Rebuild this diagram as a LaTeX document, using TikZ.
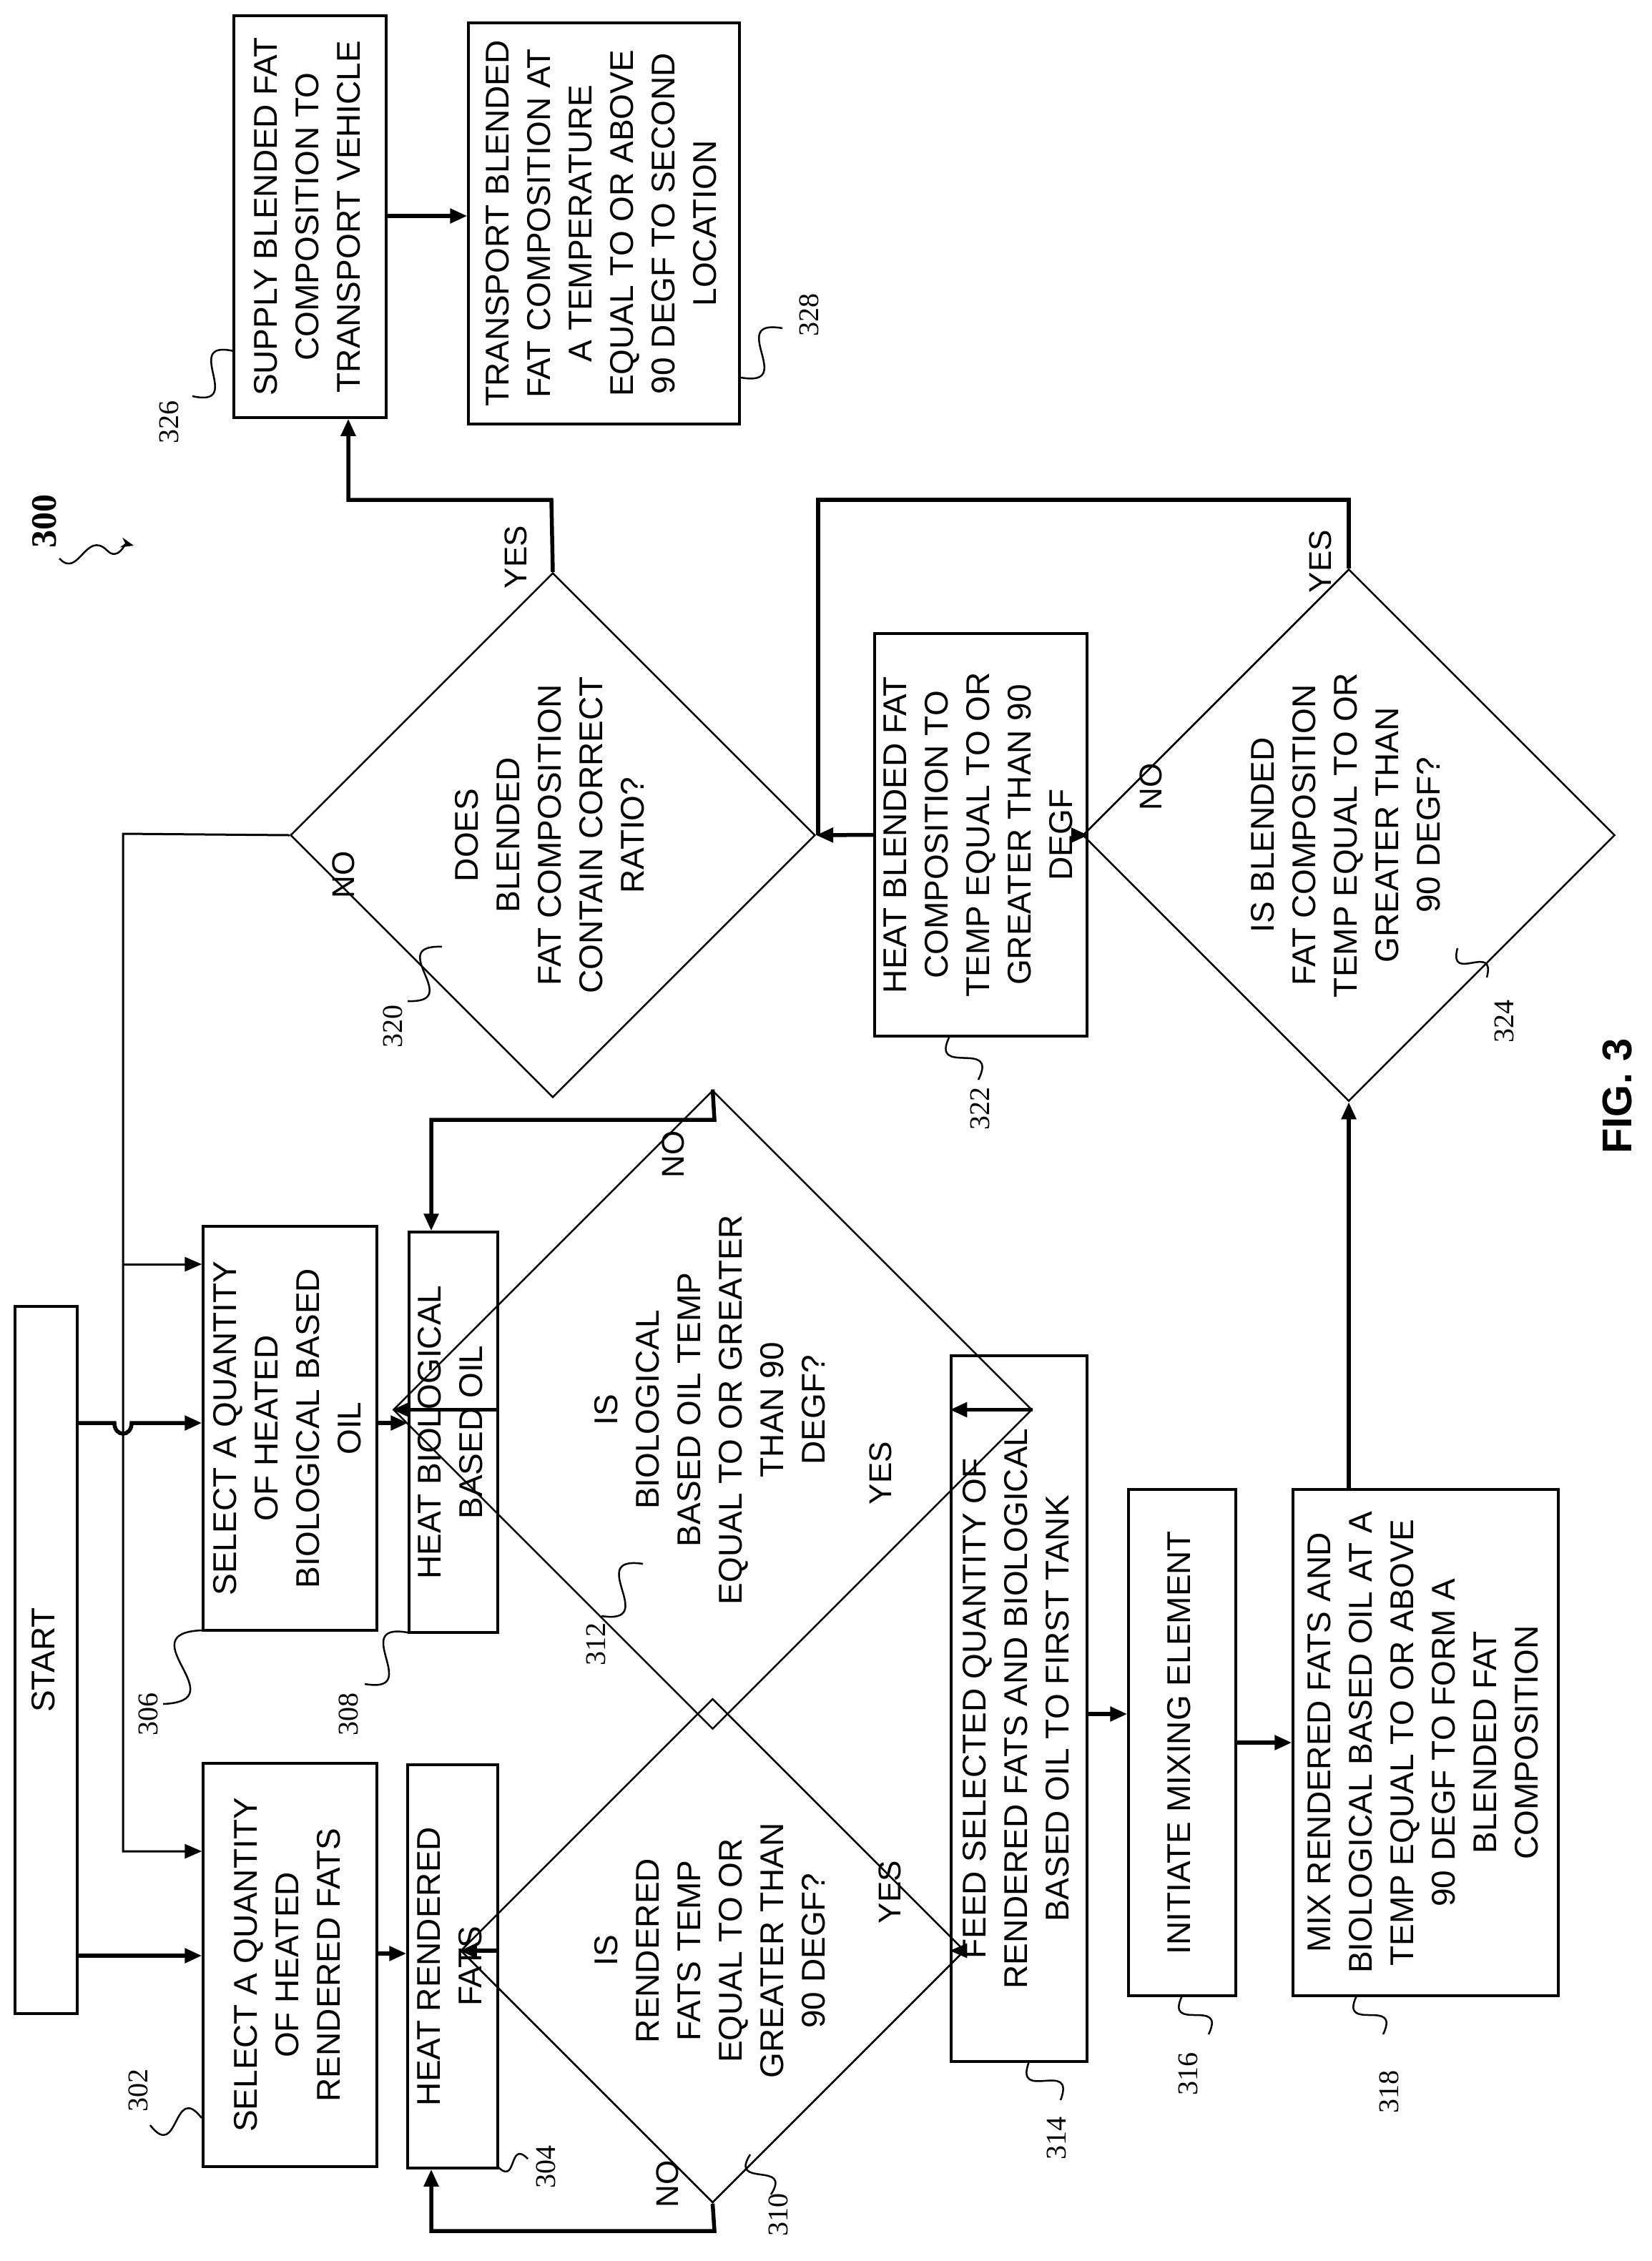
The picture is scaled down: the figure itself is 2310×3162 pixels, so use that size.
\documentclass[tikz,border=0pt]{standalone}
\usepackage{fontspec}
\setmainfont{Liberation Sans}
\newfontfamily\numfont{Liberation Serif}
\usetikzlibrary{shapes.geometric,arrows.meta,calc}
\newcommand\rt[1]{\rotatebox{90}{\begin{tabular}{@{}c@{}}#1\end{tabular}}}
\begin{document}
\begin{tikzpicture}[x=1pt,y=-1pt,
  box/.style={draw,line width=3.5pt,inner sep=0pt,font=\fontsize{46}{58}\selectfont},
  dia/.style={draw,diamond,line width=2.5pt,inner sep=0pt,font=\fontsize{46}{58}\selectfont},
  arr/.style={line width=5.5pt,-{Triangle[length=24pt,width=20pt]}},
  ln/.style={line width=5.5pt},
  tarr/.style={line width=3pt,-{Triangle[length=24pt,width=20pt]}},
  tln/.style={line width=3pt},
  sq/.style={line width=2.5pt},
  num/.style={font=\numfont\fontsize{40}{40}\selectfont,inner sep=0pt},
  yn/.style={font=\fontsize{44}{44}\selectfont,inner sep=0pt}]
\useasboundingbox[fill=white] (0,0) rectangle (2310,3162);
% boxes
\node[box,minimum width=87pt,minimum height=989pt] (start) at (64.5,2321.5) {\rt{START}};
\node[box,minimum width=243pt,minimum height=564pt] (s302) at (405.5,2748) {\rt{SELECT A QUANTITY\\OF HEATED\\RENDERED FATS}};
\node[box,minimum width=243pt,minimum height=565pt] (s306) at (405.5,1997.5) {\rt{SELECT A QUANTITY\\OF HEATED\\BIOLOGICAL BASED\\OIL}};
\node[box,minimum width=126pt,minimum height=564pt] (s304) at (633,2750) {\rt{HEAT RENDERED\\FATS}};
\node[box,minimum width=124pt,minimum height=560pt] (s308) at (634,2003) {\rt{HEAT BIOLOGICAL\\BASED OIL}};
\node[dia,minimum width=485pt,minimum height=704pt] (d310) at (996.5,2728) {\rt{IS\\RENDERED\\FATS TEMP\\EQUAL TO OR\\GREATER THAN\\90 DEGF?}};
\node[dia,minimum width=485pt,minimum height=705pt] (d312) at (996.5,1971.5) {\rt{IS\\BIOLOGICAL\\BASED OIL TEMP\\EQUAL TO OR GREATER\\THAN 90\\DEGF?}};
\node[box,minimum width=190pt,minimum height=987pt] (s314) at (1425,2389.5) {\rt{FEED SELECTED QUANTITY OF\\RENDERED FATS AND BIOLOGICAL\\BASED OIL TO FIRST TANK}};
\node[box,minimum width=150pt,minimum height=708pt] (s316) at (1653,2437) {\rt{INITIATE MIXING ELEMENT}};
\node[box,minimum width=371pt,minimum height=708pt] (s318) at (1993.5,2437) {\rt{MIX RENDERED FATS AND\\BIOLOGICAL BASED OIL AT A\\TEMP EQUAL TO OR ABOVE\\90 DEGF TO FORM A\\BLENDED FAT\\COMPOSITION}};
\node[dia,minimum width=546pt,minimum height=706pt] (d320) at (773,1168) {\rt{DOES\\BLENDED\\FAT COMPOSITION\\CONTAIN CORRECT\\RATIO?}};
\node[box,minimum width=297pt,minimum height=563pt] (s322) at (1371.5,1167.5) {\rt{HEAT BLENDED FAT\\COMPOSITION TO\\TEMP EQUAL TO OR\\GREATER THAN 90\\DEGF}};
\node[dia,minimum width=544pt,minimum height=704pt] (d324) at (1886,1168) {\rt{IS BLENDED\\FAT COMPOSITION\\TEMP EQUAL TO OR\\GREATER THAN\\90 DEGF?}};
\node[box,minimum width=213pt,minimum height=562pt] (s326) at (433.5,303) {\rt{SUPPLY BLENDED FAT\\COMPOSITION TO\\TRANSPORT VEHICLE}};
\node[box,minimum width=379pt,minimum height=561pt] (s328) at (844.5,312.5) {\rt{TRANSPORT BLENDED\\FAT COMPOSITION AT\\A TEMPERATURE\\EQUAL TO OR ABOVE\\90 DEGF TO SECOND\\LOCATION}};
% connectors
\draw[arr] (start.east|-0,2735) -- (s302.west|-0,2735);
\draw[arr] (start.east|-0,1990) -- (160,1990) .. controls (160,2010) and (184,2010) .. (184,1990) -- (s306.west|-0,1990);
\draw[tarr] (d320.west) -- (172,1166) -- (172,2589) -- (s302.west|-0,2589);
\draw[tarr] (172,1768) -- (s306.west|-0,1768);
\draw[arr] (s302.east|-0,2732) -- (s304.west|-0,2732);
\draw[arr] (s306.east|-0,1990) -- (s308.west|-0,1990);
\draw[arr] (s304.east|-d310.west) -- (d310.west);
\draw[arr] (s308.east|-d312.west) -- (d312.west);
\draw[arr] (d312.north) -- (999,1566) -- (603,1566) -- (s308.north-|603,0);
\draw[arr] (d310.south) -- (999,3120) -- (603,3120) -- (s304.south-|603,0);
\draw[arr] (d312.east) -- (s314.west|-d312.east);
\draw[tarr] (d310.east) -- (s314.west|-d310.east);
\draw[arr] (s314.east|-0,2397) -- (s316.west|-0,2397);
\draw[arr] (s316.east|-0,2437) -- (s318.west|-0,2437);
\draw[arr] (s318.north-|d324.south) -- (d324.south);
\draw[arr] (d324.west) -- (s322.east|-d324.west);
\draw[arr] (s322.west) -- (d320.east);
\draw[ln] (d324.north) -- (1886,699) -- (1144,699) -- (1144,1168);
\draw[arr] (d320.north) -- (771,699) -- (487,699) -- (s326.south-|487,0);
\draw[arr] (s326.east|-0,302) -- (s328.west|-0,302);
% yes/no labels
\node[yn] (y320) at (721,779) {\rotatebox{90}{YES}};
\node[yn] (n320) at (480,1223) {\rotatebox{90}{NO}};
\node[yn] (y324) at (1846,785) {\rotatebox{90}{YES}};
\node[yn] (n324) at (1609,1100) {\rotatebox{90}{NO}};
\node[yn] (n312) at (941,1614) {\rotatebox{90}{NO}};
\node[yn] (y312) at (1231,2060) {\rotatebox{90}{YES}};
\node[yn] (y310) at (1244,2646) {\rotatebox{90}{YES}};
\node[yn] (n310) at (933,3054) {\rotatebox{90}{NO}};
% reference numbers
\newcommand\squig[2]{\draw[sq] (#1) .. controls ($(#1)!0.9!-60:(#2)$) and ($(#2)!0.9!-60:(#1)$) .. (#2);}
\node[num] (l302) at (193,2923) {\rotatebox{90}{302}}; \squig{282,2962}{210,2972}
\node[num] (l306) at (207,2397) {\rotatebox{90}{306}}; \squig{282,2280}{228,2383}
\node[num] (l308) at (487,2397) {\rotatebox{90}{308}}; \squig{570,2283}{510,2355}
\node[num] (l312) at (833,2299) {\rotatebox{90}{312}}; \squig{899,2187}{841,2260}
\node[num] (l304) at (763,3030) {\rotatebox{90}{304}}; \squig{696,3030}{738,3019}
\node[num] (l310) at (1088,3097) {\rotatebox{90}{310}}; \squig{1049,3013}{1078,3069}
\node[num] (l320) at (549,1435) {\rotatebox{90}{320}}; \squig{618,1324}{570,1400}
\node[num] (l322) at (1370,1550) {\rotatebox{90}{322}}; \squig{1328,1449}{1368,1510}
\node[num] (l324) at (2103,1428) {\rotatebox{90}{324}}; \squig{2038,1326}{2079,1367}
\node[num] (l326) at (236,590) {\rotatebox{90}{326}}; \squig{327,491}{269,554}
\node[num] (l328) at (1131,440) {\rotatebox{90}{328}}; \squig{1036,528}{1094,459}
\node[num] (l314) at (1477,2990) {\rotatebox{90}{314}}; \squig{1439,2883}{1483,2937}
\node[num] (l316) at (1661,2900) {\rotatebox{90}{316}}; \squig{1653,2791}{1690,2845}
\node[num] (l318) at (1942,2925) {\rotatebox{90}{318}}; \squig{1897,2791}{1934,2845}
\node[num,font=\numfont\bfseries\fontsize{50}{50}\selectfont] (l300) at (62,729) {\rotatebox{90}{300}};
\draw[sq,-{Stealth[length=18pt,width=14pt]}] (83,781) .. controls (110,810) and (120,740) .. (150,770) .. controls (165,785) and (175,760) .. (187,763);
\node[font=\bfseries\fontsize{58}{58}\selectfont,inner sep=0pt] (fig) at (2262,1533) {\rotatebox{90}{FIG. 3}};
\end{tikzpicture}
\end{document}
